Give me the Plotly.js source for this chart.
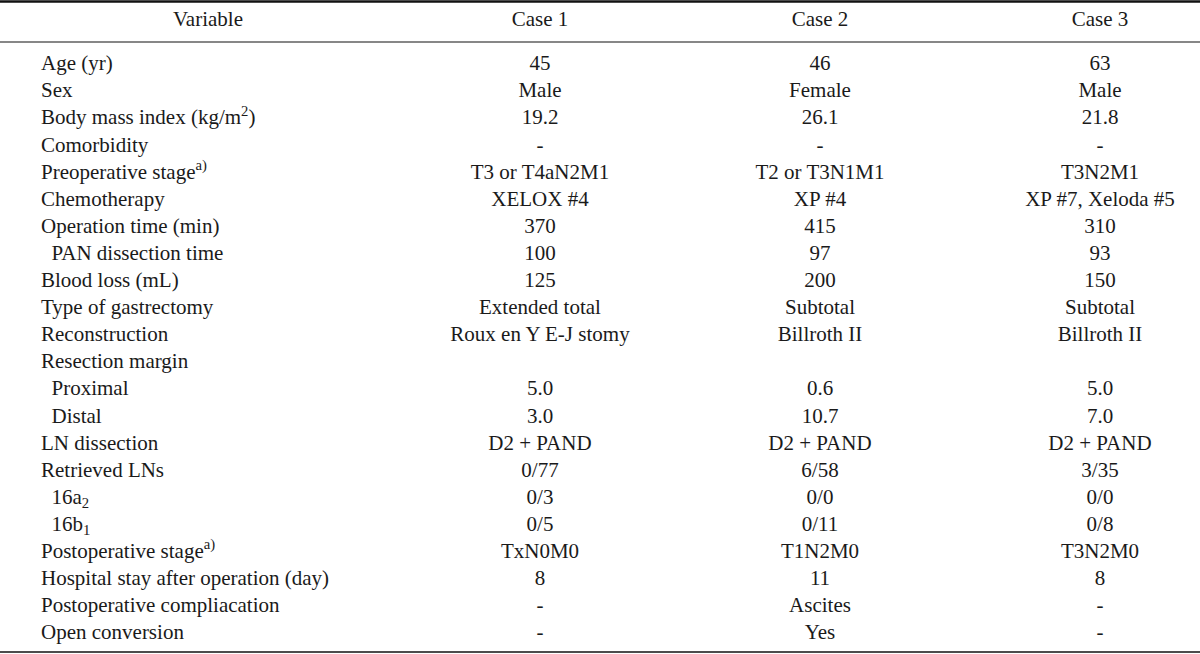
<!DOCTYPE html>
<html><head><meta charset="utf-8">
<script src="https://cdn.plot.ly/plotly-3.0.1.min.js"></script>
<style>html,body{margin:0;padding:0;background:#fff}#chart{width:1200px;height:654px}</style>
</head><body><div id="chart"></div>
<script>
const headers = ["Variable", "Case 1", "Case 2", "Case 3"];
const variables = [
  "Age (yr)", "Sex", "Body mass index (kg/m<sup>2</sup>)", "Comorbidity",
  "Preoperative stage<sup>a)</sup>", "Chemotherapy", "Operation time (min)",
  "\u00a0\u00a0PAN dissection time", "Blood loss (mL)", "Type of gastrectomy",
  "Reconstruction", "Resection margin", "\u00a0\u00a0Proximal", "\u00a0\u00a0Distal",
  "LN dissection", "Retrieved LNs", "\u00a0\u00a016a<sub>2</sub>", "\u00a0\u00a016b<sub>1</sub>",
  "Postoperative stage<sup>a)</sup>", "Hospital stay after operation (day)",
  "Postoperative compliacation", "Open conversion"
];
const case1 = ["45", "Male", "19.2", "-", "T3 or T4aN2M1", "XELOX #4", "370", "100", "125",
  "Extended total", "Roux en Y E-J stomy", "", "5.0", "3.0", "D2 + PAND", "0/77", "0/3", "0/5",
  "TxN0M0", "8", "-", "-"];
const case2 = ["46", "Female", "26.1", "-", "T2 or T3N1M1", "XP #4", "415", "97", "200",
  "Subtotal", "Billroth II", "", "0.6", "10.7", "D2 + PAND", "6/58", "0/0", "0/11",
  "T1N2M0", "11", "Ascites", "Yes"];
const case3 = ["63", "Male", "21.8", "-", "T3N2M1", "XP #7, Xeloda #5", "310", "93", "150",
  "Subtotal", "Billroth II", "", "5.0", "7.0", "D2 + PAND", "3/35", "0/0", "0/8",
  "T3N2M0", "8", "-", "-"];

const rows = variables.map((_, i) => i);
const FONT = {family: "Liberation Serif, Times New Roman, serif", size: 21, color: "#1a1a1a"};
const colX = {label: 41, var: 208, c1: 540, c2: 820, c3: 1100};

function txt(x, text, pos) {
  const keep = rows.filter(i => text[i] !== "");
  return {type: "scatter", mode: "text", x: keep.map(() => x), y: keep, text: keep.map(i => text[i]),
    textposition: pos, textfont: FONT, hoverinfo: "skip", showlegend: false, cliponaxis: false};
}
const traces = [
  txt(colX.label, variables, "middle right"),
  txt(colX.c1, case1, "middle center"),
  txt(colX.c2, case2, "middle center"),
  txt(colX.c3, case3, "middle center")
];
const hdrY = -1.624;
const hdrX = [colX.var, colX.c1, colX.c2, colX.c3];
traces.push({type: "scatter", mode: "text", x: hdrX, y: hdrX.map(() => hdrY), text: headers,
  textposition: "middle center", textfont: FONT, hoverinfo: "skip", showlegend: false, cliponaxis: false});

const line = (y, w) => ({type: "line", xref: "paper", x0: 0, x1: 1, yref: "y", y0: y, y1: y,
  line: {color: "#111", width: w}});
const layout = {
  width: 1200, height: 654, margin: {l: 0, r: 0, t: 0, b: 0},
  paper_bgcolor: "#fff", plot_bgcolor: "#fff",
  xaxis: {range: [0, 1200], visible: false, fixedrange: true},
  yaxis: {range: [21.735, -2.398], visible: false, fixedrange: true},
  shapes: [line(-2.342, 2.5), line(-0.848, 1.2), line(21.661, 1.5)]
};
Plotly.newPlot("chart", traces, layout, {displayModeBar: false, staticPlot: true});
</script></body></html>
